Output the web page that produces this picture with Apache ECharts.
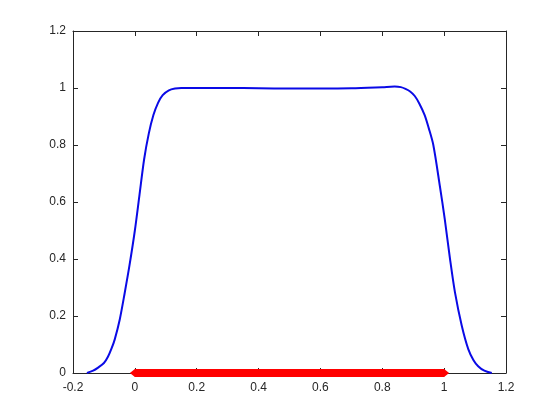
<!DOCTYPE html>
<html>
<head>
<meta charset="utf-8">
<script src="https://cdn.jsdelivr.net/npm/echarts@6/dist/echarts.min.js"></script>
<style>
  html, body { margin: 0; padding: 0; background: #fff; }
  #main { width: 560px; height: 420px; }
</style>
</head>
<body>
<div id="main"></div>
<script>
  // blue curve
  var curveX = [-0.155, -0.15, -0.135, -0.12, -0.1, -0.087, -0.075, -0.065, -0.049, -0.033, -0.017, 0, 0.015, 0.03, 0.045, 0.06, 0.075, 0.09, 0.11, 0.13, 0.15, 0.2, 0.3, 0.4, 0.5, 0.6, 0.7, 0.8, 0.84, 0.86, 0.875, 0.89, 0.905, 0.92, 0.937, 0.95, 0.965, 0.986, 1.002, 1.019, 1.035, 1.057, 1.078, 1.095, 1.11, 1.13, 1.154];
  var curveY = [0, 0.002, 0.008, 0.018, 0.035, 0.057, 0.087, 0.118, 0.187, 0.28, 0.38, 0.5, 0.625, 0.75, 0.84, 0.905, 0.948, 0.975, 0.992, 0.998, 1.0, 1.0, 1.0, 0.999, 0.998, 0.998, 0.999, 1.003, 1.005, 1.003, 0.997, 0.988, 0.972, 0.945, 0.905, 0.86, 0.80, 0.657, 0.54, 0.40, 0.283, 0.166, 0.084, 0.045, 0.024, 0.008, 0];
  // red segment on the x axis
  var segX = [0, 1];
  var segY = [0, 0];
  var xTicks = [-0.2, 0, 0.2, 0.4, 0.6, 0.8, 1, 1.2];
  var yTicks = [0, 0.2, 0.4, 0.6, 0.8, 1, 1.2];

  var myChart = echarts.init(document.getElementById('main'));
  var lbl = { color: '#262626', fontSize: 12, fontFamily: 'Liberation Sans, Arial, sans-serif' };
  var axLine = { show: true, onZero: false, lineStyle: { color: '#262626', width: 1 } };
  var fmt = function (v) { return String(Math.round(v * 10) / 10); };

  var option = {
    animation: false,
    backgroundColor: '#fff',
    grid: { left: 73, right: 54, top: 31, bottom: 47 },
    xAxis: [{
      type: 'value', min: xTicks[0], max: xTicks[xTicks.length - 1], interval: 0.2,
      axisLine: axLine,
      axisTick: { inside: true, length: 5, lineStyle: { color: '#262626' } },
      axisLabel: Object.assign({ margin: 9, formatter: fmt }, lbl),
      splitLine: { show: false }
    }, {
      type: 'value', position: 'top', min: xTicks[0], max: xTicks[xTicks.length - 1], interval: 0.2,
      axisLine: axLine,
      axisTick: { inside: true, length: 5, lineStyle: { color: '#262626' } },
      axisLabel: { show: false },
      splitLine: { show: false }
    }],
    yAxis: [{
      type: 'value', min: yTicks[0], max: yTicks[yTicks.length - 1], interval: 0.2,
      axisLine: axLine,
      axisTick: { inside: true, length: 5, lineStyle: { color: '#262626' } },
      axisLabel: Object.assign({ margin: 7, formatter: fmt }, lbl),
      splitLine: { show: false }
    }, {
      type: 'value', position: 'right', min: yTicks[0], max: yTicks[yTicks.length - 1], interval: 0.2,
      axisLine: axLine,
      axisTick: { inside: true, length: 5, lineStyle: { color: '#262626' } },
      axisLabel: { show: false },
      splitLine: { show: false }
    }],
    series: [{
      type: 'line',
      data: curveX.map(function (x, i) { return [x, curveY[i]]; }),
      smooth: 0.3,
      showSymbol: false,
      lineStyle: { color: '#0a0ae6', width: 2 },
      z: 3
    }, {
      type: 'line',
      data: segX.map(function (x, i) { return [x, segY[i]]; }),
      symbol: 'diamond',
      symbolSize: [10, 8],
      itemStyle: { color: '#ff0000' },
      lineStyle: { color: '#ff0000', width: 8, cap: 'butt' },
      clip: false,
      z: 4
    }]
  };
  myChart.setOption(option, true);
</script>
</body>
</html>
